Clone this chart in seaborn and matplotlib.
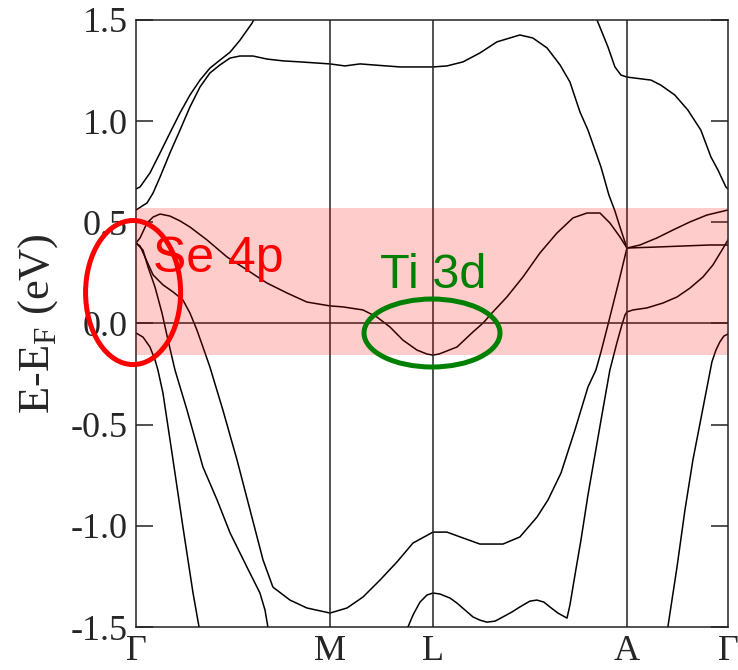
import matplotlib
matplotlib.use("Agg")
import matplotlib.pyplot as plt
from matplotlib.patches import Ellipse
import numpy as np
import pandas as pd
import seaborn as sns

# High-symmetry points along the k-path
K_POINTS = [0.0, 1.0, 1.531, 2.531, 3.052]
K_LABELS = ["Γ", "M", "L", "A", "Γ"]

Y_TICKS = [-1.5, -1.0, -0.5, 0.0, 0.5, 1.0, 1.5]

# Highlighted energy window (eV)
WINDOW = (-0.154, 0.571)

# Band energies (eV) against path coordinate k
upper_gm_k = [0.0, 0.021, 0.072, 0.124, 0.175, 0.227, 0.278, 0.330, 0.381, 0.433, 0.485, 0.536, 0.598, 0.629]
upper_gm_e = [0.665, 0.675, 0.744, 0.843, 0.942, 1.041, 1.129, 1.203, 1.262, 1.302, 1.341, 1.400, 1.484, 1.540]

upper_lag_k = [2.361, 2.381, 2.433, 2.469, 2.500, 2.531, 2.572, 2.655, 2.706, 2.778, 2.845, 2.912, 2.964, 3.000, 3.041, 3.052]
upper_lag_e = [1.540, 1.490, 1.367, 1.268, 1.228, 1.218, 1.213, 1.203, 1.178, 1.129, 1.055, 0.956, 0.823, 0.759, 0.675, 0.665]

second_k = [0.0, 0.057, 0.088, 0.124, 0.175, 0.227, 0.278, 0.330, 0.381, 0.433, 0.485, 0.536, 0.603, 0.675,
            0.758, 0.845, 1.0, 1.077, 1.155, 1.222, 1.361, 1.531, 1.603, 1.686, 1.773, 1.861, 1.979, 2.046,
            2.119, 2.186, 2.237, 2.289, 2.330, 2.397, 2.438, 2.469, 2.495, 2.531,
            2.598, 2.686, 2.768, 2.856, 2.943, 3.052]
second_e = [0.561, 0.596, 0.645, 0.724, 0.843, 0.956, 1.070, 1.169, 1.238, 1.278, 1.312, 1.322, 1.322, 1.307,
            1.298, 1.293, 1.283, 1.273, 1.283, 1.278, 1.268, 1.268, 1.273, 1.293, 1.337, 1.392, 1.426, 1.411,
            1.362, 1.278, 1.194, 1.045, 0.956, 0.774, 0.635, 0.556, 0.477, 0.373,
            0.388, 0.423, 0.462, 0.502, 0.536, 0.561]

se4p_k = [0.0, 0.021, 0.057, 0.088, 0.124, 0.175, 0.227, 0.278, 0.366, 0.469, 0.572, 0.675, 0.778, 0.881,
          1.0, 1.067, 1.170, 1.242, 1.309, 1.376, 1.448, 1.500, 1.531, 1.562, 1.655, 1.737, 1.789, 1.840,
          1.912, 1.995, 2.082, 2.170, 2.253, 2.325, 2.392, 2.443, 2.495, 2.531]
se4p_e = [0.398, 0.423, 0.497, 0.526, 0.541, 0.531, 0.507, 0.477, 0.413, 0.329, 0.265, 0.200, 0.151, 0.106,
          0.087, 0.082, 0.067, 0.032, -0.017, -0.082, -0.131, -0.151, -0.156, -0.151, -0.116, -0.042, 0.002, 0.057,
          0.131, 0.230, 0.348, 0.447, 0.522, 0.546, 0.546, 0.497, 0.428, 0.373]

valley_k = [0.0, 0.021, 0.046, 0.088, 0.139, 0.191, 0.242, 0.278, 0.314, 0.345, 0.381, 0.448, 0.521, 0.588,
            0.655, 0.706, 0.794, 0.881, 1.0, 1.088, 1.170, 1.258, 1.345, 1.428, 1.531, 1.603, 1.686, 1.773,
            1.892, 1.979, 2.067, 2.124, 2.191, 2.263, 2.330, 2.371, 2.397, 2.433, 2.469, 2.495, 2.531]
valley_e = [0.398, 0.383, 0.329, 0.240, 0.191, 0.156, 0.116, 0.052, -0.032, -0.116, -0.215, -0.428, -0.675, -0.922,
            -1.169, -1.303, -1.367, -1.406, -1.431, -1.406, -1.352, -1.268, -1.179, -1.085, -1.031, -1.031, -1.060, -1.090,
            -1.090, -1.055, -0.957, -0.872, -0.739, -0.526, -0.314, -0.230, -0.141, -0.007, 0.131, 0.230, 0.373]

steep_k = [0.0, 0.036, 0.062, 0.098, 0.134, 0.165, 0.201, 0.263, 0.345, 0.418, 0.485, 0.572, 0.639, 0.665, 0.680]
steep_e = [0.398, 0.363, 0.279, 0.180, 0.052, -0.082, -0.230, -0.428, -0.709, -0.872, -1.035, -1.204, -1.332, -1.416, -1.500]

low_gm_k = [0.0, 0.036, 0.072, 0.098, 0.113, 0.139, 0.191, 0.242, 0.294, 0.325]
low_gm_e = [-0.047, -0.067, -0.116, -0.180, -0.230, -0.344, -0.675, -1.006, -1.332, -1.500]

low_ag_k = [2.742, 2.789, 2.830, 2.871, 2.923, 2.969, 2.990, 3.010, 3.031, 3.052]
low_ag_e = [-1.500, -1.204, -0.922, -0.675, -0.418, -0.190, -0.131, -0.091, -0.062, -0.052]

wiggle_k = [1.402, 1.428, 1.464, 1.500, 1.531, 1.567, 1.619, 1.655, 1.696, 1.737, 1.773, 1.809, 1.851, 1.892,
            1.938, 1.979, 2.031, 2.067, 2.103, 2.134, 2.175, 2.222, 2.237, 2.263, 2.294, 2.330, 2.366, 2.402,
            2.443, 2.479, 2.505, 2.521, 2.531, 2.562, 2.634, 2.716, 2.789, 2.856, 2.923, 2.974, 3.021, 3.052]
wiggle_e = [-1.500, -1.441, -1.377, -1.342, -1.332, -1.337, -1.357, -1.382, -1.416, -1.450, -1.466, -1.476, -1.471, -1.450,
            -1.426, -1.401, -1.372, -1.367, -1.377, -1.401, -1.431, -1.456, -1.392, -1.243, -1.070, -0.848, -0.650, -0.452,
            -0.230, -0.096, -0.007, 0.042, 0.057, 0.067, 0.077, 0.101, 0.131, 0.175, 0.230, 0.289, 0.363, 0.413]

flat_ag_k = [2.531, 2.686, 2.820, 2.959, 3.052]
flat_ag_e = [0.373, 0.378, 0.383, 0.388, 0.388]

bands = {
    "upper_gm": (upper_gm_k, upper_gm_e),
    "upper_lag": (upper_lag_k, upper_lag_e),
    "second": (second_k, second_e),
    "se4p": (se4p_k, se4p_e),
    "valley": (valley_k, valley_e),
    "steep": (steep_k, steep_e),
    "low_gm": (low_gm_k, low_gm_e),
    "low_ag": (low_ag_k, low_ag_e),
    "wiggle": (wiggle_k, wiggle_e),
    "flat_ag": (flat_ag_k, flat_ag_e),
}
df = pd.concat(
    [pd.DataFrame({"k": k, "E": e, "band": name}) for name, (k, e) in bands.items()],
    ignore_index=True,
)

sns.set_style("ticks")
plt.rcParams["font.family"] = ["Liberation Serif", "DejaVu Serif"]
plt.rcParams["axes.unicode_minus"] = False

W, H = 738, 670
fig = plt.figure(figsize=(W / 100, H / 100), dpi=100)
ax = fig.add_axes([136 / W, 1 - 627 / H, (728 - 136) / W, (627 - 20) / H])

sns.lineplot(data=df, x="k", y="E", units="band", estimator=None, sort=False,
             color="black", linewidth=1.1, legend=False, ax=ax, zorder=2)

for kp in K_POINTS[1:-1]:
    ax.axvline(kp, color="#222222", linewidth=1.1, zorder=2)
ax.axhline(0.0, color="#222222", linewidth=1.1, zorder=2)

ax.axhspan(WINDOW[0], WINDOW[1], color="red", alpha=0.2, linewidth=0, zorder=3)

ax.set_xlim(K_POINTS[0], K_POINTS[-1])
ax.set_ylim(-1.5, 1.5)
ax.set_xticks(K_POINTS)
ax.set_xticklabels(K_LABELS)
ax.set_yticks(Y_TICKS)
ax.set_yticklabels([f"{v:.1f}" for v in Y_TICKS])
ax.tick_params(axis="x", length=0, pad=6, labelsize=26)
ax.tick_params(axis="y", direction="in", length=12, width=1.1, pad=6,
               labelsize=26, right=True, left=True, color="#222222")
for s in ax.spines.values():
    s.set_linewidth(1.1)
    s.set_color("#222222")
    s.set_zorder(2.5)

ax.set_xlabel("")
ax.set_ylabel("E-E$_{\\mathregular{F}}$ (eV)", fontsize=32, labelpad=8)

# Orbital-character annotations
ax.add_patch(Ellipse((-0.015, 0.153), 0.490, 0.712, fill=False, edgecolor="red",
                     linewidth=3.6, clip_on=False, zorder=6))
ax.add_patch(Ellipse((1.526, -0.047), 0.701, 0.336, fill=False, edgecolor="green",
                     linewidth=3.6, clip_on=False, zorder=6))
ax.text(0.088, 0.255, "Se 4p", color="red", fontsize=36, family="Liberation Sans",
        ha="left", va="baseline", zorder=7)
ax.text(1.258, 0.175, "Ti 3d", color="green", fontsize=35, family="Liberation Sans",
        ha="left", va="baseline", zorder=7)

fig.savefig("out.png", dpi=100)
